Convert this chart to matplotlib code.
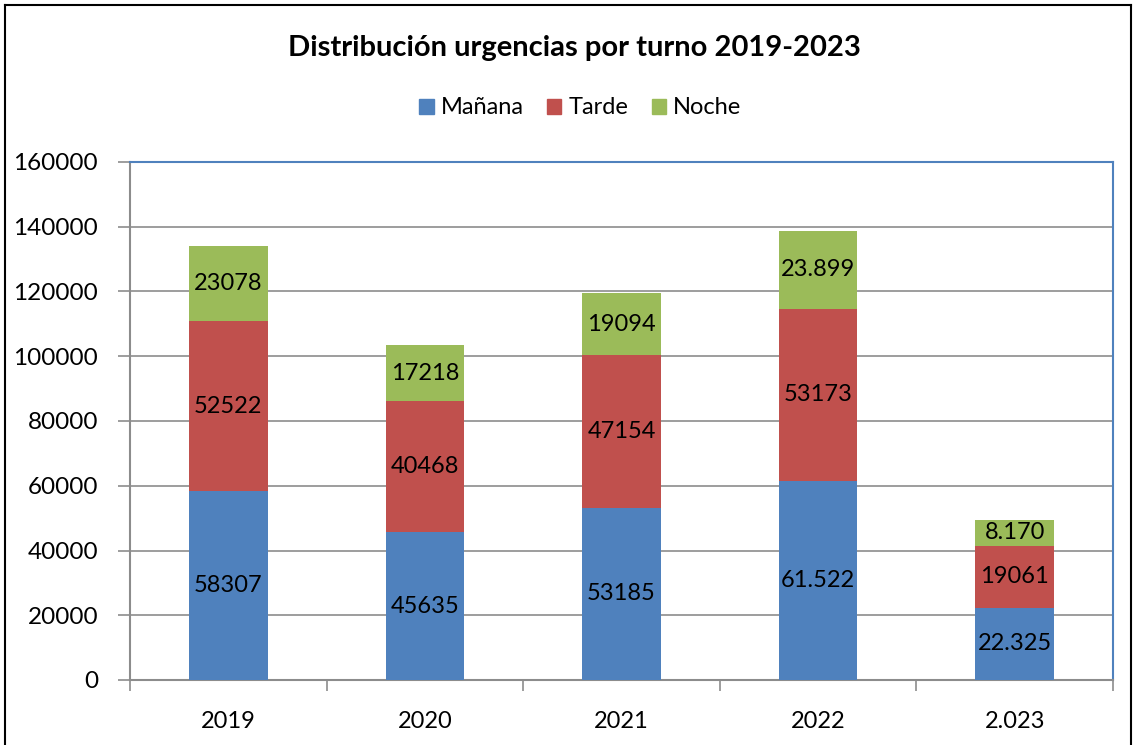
import matplotlib
matplotlib.use('Agg')
import matplotlib.pyplot as plt
import matplotlib.patches as mpatches
from matplotlib.lines import Line2D
import numpy as np

BLUE = '#4F81BD'
RED = '#C0504D'
GREEN = '#9BBB59'
GRID = '#8C8C8C'

plt.rcParams['font.family'] = ['Lato', 'DejaVu Sans']

years = ['2019', '2020', '2021', '2022', '2.023']
manana = [58307, 45635, 53185, 61522, 22325]
tarde = [52522, 40468, 47154, 53173, 19061]
noche = [23078, 17218, 19094, 23899, 8170]
manana_lbl = ['58307', '45635', '53185', '61.522', '22.325']
tarde_lbl = ['52522', '40468', '47154', '53173', '19061']
noche_lbl = ['23078', '17218', '19094', '23.899', '8.170']

W, H = 1136, 745
fig = plt.figure(figsize=(W / 100, H / 100), dpi=100)
ax = fig.add_axes([130 / W, 1 - 680 / H, (1113 - 130) / W, (680 - 162) / H])

x = np.arange(len(years))
bw = 0.4
m = np.array(manana); t = np.array(tarde); n = np.array(noche)
b1 = ax.bar(x, m, bw, color=BLUE, zorder=3)
b2 = ax.bar(x, t, bw, bottom=m, color=RED, zorder=3)
b3 = ax.bar(x, n, bw, bottom=m + t, color=GREEN, zorder=3)
for bars, labels in [(b1, manana_lbl), (b2, tarde_lbl), (b3, noche_lbl)]:
    ax.bar_label(bars, labels=labels, label_type='center', fontsize=17, color='black', zorder=4)

ax.set_xlim(-0.5, len(years) - 0.5)
ax.set_ylim(0, 160000)
ax.set_yticks(np.arange(0, 160001, 20000))
ax.set_yticklabels([str(v) for v in range(0, 160001, 20000)])
ax.set_xticks(x)
ax.set_xticklabels(years)
ax.set_xticks(np.arange(-0.5, len(years), 1), minor=True)
ax.tick_params(axis='x', which='major', length=0, pad=22, labelsize=17)
ax.tick_params(axis='x', which='minor', length=8, color=GRID, width=1.2)
ax.tick_params(axis='y', length=9, color=GRID, width=1.2, pad=14, labelsize=17.5)
ax.yaxis.grid(True, color=GRID, linewidth=1.2, zorder=0)

for s in ['left', 'bottom']:
    ax.spines[s].set_color(GRID)
    ax.spines[s].set_linewidth(1.5)
for s in ['top', 'right']:
    ax.spines[s].set_color(BLUE)
    ax.spines[s].set_linewidth(1.5)

fig.text(0.506, 1 - 48 / H, 'Distribución urgencias por turno 2019-2023', ha='center', va='center',
         fontsize=21, fontweight='bold')

handles = [mpatches.Patch(color=BLUE, label='Mañana'), mpatches.Patch(color=RED, label='Tarde'),
           mpatches.Patch(color=GREEN, label='Noche')]
fig.legend(handles=handles, loc='center', bbox_to_anchor=(0.511, 1 - 108 / H), ncol=3, frameon=False,
           fontsize=17, handlelength=0.6, handleheight=0.6, handletextpad=0.3, columnspacing=1.0)

# outer chart frame
for xs, ys in [([5 / W, 5 / W], [0, 1 - 5 / H]), ([5 / W, 1131 / W], [1 - 5 / H, 1 - 5 / H]),
               ([1131 / W, 1131 / W], [0, 1 - 5 / H])]:
    fig.add_artist(Line2D(xs, ys, color='black', linewidth=1.5, transform=fig.transFigure))

fig.savefig('out.png', dpi=100)
